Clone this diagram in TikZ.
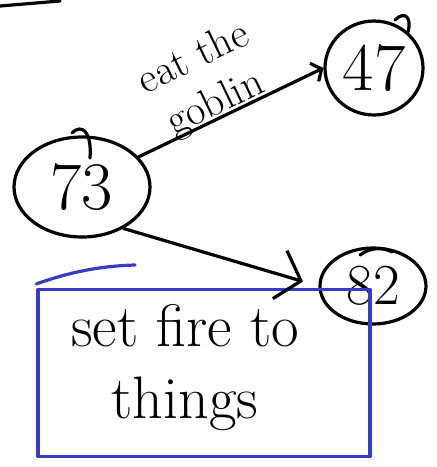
\documentclass[tikz,border=0pt]{standalone}
\usepackage{tikz}
\usetikzlibrary{shapes.geometric,arrows.meta}
\definecolor{penblue}{RGB}{58,58,200}
\tikzset{
  ink/.style={line width=3.2pt, line cap=round, line join=round},
  statenode/.style={ellipse, draw, ink, inner sep=0pt},
  bigtext/.style={font=\fontsize{68}{70}\selectfont},
}
\begin{document}
\begin{tikzpicture}[x=1pt,y=-1pt]
\useasboundingbox (0,0) rectangle (437,467);
% stray stroke at top-left
\draw[ink] (0,6) -- (60,1);
% states
\node[statenode, minimum width=136pt, minimum height=100pt, bigtext] (n73) at (82,187) {73};
\node[statenode, minimum width=98pt, minimum height=94pt, bigtext] (n47) at (374,68) {47};
\node[statenode, minimum width=106pt, minimum height=76pt, font=\fontsize{58}{60}\selectfont] (n82) at (373,286) {82};
% closing overlaps of the hand-drawn circles
\draw[ink] (72,133) .. controls (82,123) and (92,132) .. (90,158);
\draw[ink] (395,20) .. controls (405,10) and (412,18) .. (408,32);
\draw[ink] (360,255) .. controls (372,246) and (385,248) .. (392,252);
% action box
\node[draw=penblue, ink, minimum width=332pt, minimum height=167pt, inner sep=0pt] (act) at (204,373) {};
\node[align=center, font=\fontsize{60}{72}\selectfont, inner sep=0pt] (acttext) at (185,368) {set fire to\\things};
\draw[ink, penblue] (act.north west) ++(0,-4) .. controls (70,272) and (100,266) .. (135,265);
% connectors
\draw[ink, -{Straight Barb[length=8pt,width=20pt]}] (n73.28) -- (n47.west)
  node[pos=0.45, sloped, above=-10pt, font=\fontsize{42}{50}\selectfont, align=center] (lbl) {eat the\\goblin};
\draw[ink, -{Straight Barb[length=22pt,width=50pt]}, shorten >=16pt] (n73.-45) -- (n82.west);
\end{tikzpicture}
\end{document}
